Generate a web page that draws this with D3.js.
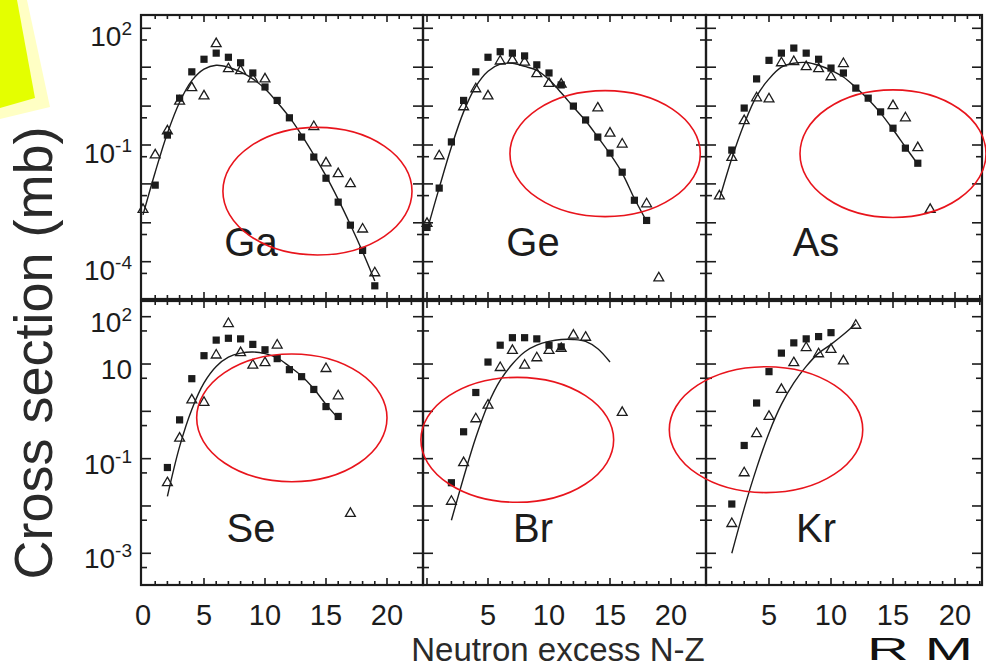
<!DOCTYPE html>
<html><head><meta charset="utf-8">
<script src="https://cdn.jsdelivr.net/npm/d3@7"></script>
<style>body{margin:0;background:#fff}svg{display:block}</style>
</head><body>
<svg id="c" width="986" height="669"></svg>
<script>
// ---------- data: [N-Z, cross section (mb)] ----------
const elements = ["Ga","Ge","As","Se","Br","Kr"];
const xTickLabels = [0,5,10,15,20];
const yTickLabelsTop = [1e2,1e-1,1e-4];
const yTickLabelsBottom = [1e2,1e1,1e-1,1e-3];
const yTitle = "Cross section (mb)";
const xTitle = "Neutron excess N-Z";

const gaSquares = [[1,0.0093],[2,0.18],[3,1.6],[4,7.6],[5,16],[6,23],[7,18],[8,13],[9,7.1],[10,3.1],[11,1.4],[12,0.5],[13,0.16],[14,0.049],[15,0.014],[16,0.0034],[17,0.00087],[18,0.000195],[19,0.000024]];
const gaTriangles = [[0,0.0023],[1,0.058],[2,0.24],[3,1.4],[4,3.1],[5,1.9],[6,42],[7,9.5],[8,8.5],[9,5.2],[10,5.2],[14,0.31],[15,0.036],[16,0.019],[17,0.0105],[18,0.00072],[19,0.000054]];
const gaFit = [[0,0.0016],[1,0.02],[2,0.2],[3,1.26],[4,4.5],[5,8.9],[6,11.2],[7,10],[8,7.6],[9,5.0],[10,2.8],[11,1.26],[12,0.52],[13,0.18],[14,0.056],[15,0.016],[16,0.004],[17,0.00089],[18,0.00018],[19,0.000032]];

const geSquares = [[0,0.00076],[1,0.0078],[2,0.12],[3,1.4],[4,7.6],[5,18],[6,25],[7,23],[8,19.5],[9,11.5],[10,7.1],[11,3.5],[12,1.0],[13,0.44],[14,0.16],[15,0.062],[16,0.02],[17,0.0038],[18,0.00115]];
const geTriangles = [[0,0.001],[1,0.055],[3,1.0],[4,2.9],[5,1.9],[6,15],[7,16],[8,14],[9,7.1],[10,4.0],[11,3.8],[14,0.93],[15,0.21],[16,0.11],[18,0.0032],[19,0.00004]];
const geFit = [[0,0.00063],[1,0.0079],[2,0.089],[3,0.71],[4,3.2],[5,7.9],[6,12],[7,12.6],[8,10.5],[9,8.3],[10,4.8],[11,2.2],[12,0.95],[13,0.42],[14,0.16],[15,0.059],[16,0.019],[17,0.0042],[18,0.0011]];

const asSquares = [[2,0.074],[3,0.89],[4,5.0],[5,15],[6,23],[7,31],[8,23],[9,16],[10,9.5],[11,7.1],[12,2.9],[13,1.6],[14,0.71],[15,0.27],[16,0.083],[17,0.034]];
const asTriangles = [[1,0.0051],[2,0.05],[3,0.44],[4,1.7],[5,1.6],[6,13.5],[7,14.5],[8,10.7],[9,9.5],[10,5.9],[11,12.9],[15,1.07],[16,0.52],[17,0.089],[18,0.0023]];
const asFit = [[1,0.004],[2,0.045],[3,0.35],[4,1.8],[5,5.0],[6,10],[7,12.6],[8,13.2],[9,11.2],[10,8.3],[11,5.6],[12,3.0],[13,1.5],[14,0.66],[15,0.25],[16,0.089],[17,0.032]];

const seSquares = [[2,0.065],[3,0.66],[4,4.9],[5,15],[6,32],[7,35],[8,34],[9,26],[10,20],[11,13],[12,7.6],[13,5.4],[14,2.9],[15,1.26],[16,0.78]];
const seTriangles = [[2,0.032],[3,0.28],[4,1.8],[5,1.6],[6,16],[7,74],[8,18],[9,9.8],[10,11],[11,26],[15,8.3],[16,2.2],[17,0.0072]];
const seFit = [[2,0.016],[3,0.18],[4,1.1],[5,4.0],[6,8.9],[7,14],[8,17],[9,18],[10,16.6],[11,13.5],[12,8.9],[13,5.6],[14,3.0],[15,1.4],[16,0.71]];

const brSquares = [[2,0.031],[3,0.37],[4,2.5],[5,11],[6,25],[7,36],[8,36],[9,34],[10,25],[11,23]];
const brTriangles = [[2,0.013],[3,0.085],[4,0.72],[5,1.4],[6,8.7],[7,20],[8,9.8],[9,14],[10,20],[11,22],[12,42],[13,38],[16,0.98]];
const brFit = [[2,0.005],[3,0.04],[4,0.28],[5,1.4],[6,4.5],[7,10],[8,18],[9,25],[10,30],[11,33],[12,33],[13,30],[14,21],[15,11]];

const krSquares = [[2,0.011],[3,0.19],[4,1.5],[5,6.9],[6,17],[7,28],[8,34],[9,38],[10,46]];
const krTriangles = [[2,0.0044],[3,0.052],[4,0.35],[5,0.81],[6,3.0],[7,11],[8,23],[9,17],[10,21],[11,12],[12,68]];
const krFit = [[2,0.001],[3,0.0089],[4,0.063],[5,0.35],[6,1.4],[7,4.0],[8,8.9],[9,17],[10,26],[11,42],[12,71]];

// highlight rings: [centre N-Z, centre cross section, half-width in N-Z, half-height in decades]
const ringGa = [14.3,0.0065,7.75,1.64];
const ringGe = [14.6,0.06,7.8,1.62];
const ringAs = [15.0,0.06,7.5,1.64];
const ringSe = [12.2,0.73,7.8,1.35];
const ringBr = [7.4,0.25,7.9,1.32];
const ringKr = [4.76,0.41,7.8,1.33];

const panels = [
  {el:"Ga", sq:gaSquares, tri:gaTriangles, fit:gaFit, ring:ringGa},
  {el:"Ge", sq:geSquares, tri:geTriangles, fit:geFit, ring:ringGe},
  {el:"As", sq:asSquares, tri:asTriangles, fit:asFit, ring:ringAs},
  {el:"Se", sq:seSquares, tri:seTriangles, fit:seFit, ring:ringSe},
  {el:"Br", sq:brSquares, tri:brTriangles, fit:brFit, ring:ringBr},
  {el:"Kr", sq:krSquares, tri:krTriangles, fit:krFit, ring:ringKr}
];

// ---------- layout ----------
const INK = "#1c1c1c";
const FONT = "'Liberation Sans', Arial, Helvetica, sans-serif";
const svg = d3.select("#c");

// decorative yellow note (top-left)
svg.append("path").attr("d","M0,0 L27,0 L50,107 L0,119 Z").attr("fill","#ffffc4");
svg.append("path").attr("d","M0,0 L17,0 L35,98 L0,108 Z").attr("fill","#e4ff00");

const cols = [
  {x0:141, x1:423, a:143, b:387},
  {x0:423, x1:706, a:427, b:671},
  {x0:706, x1:982, a:707, b:955}
];
const rows = [
  {y0:15, y1:299, y:d3.scaleLog().domain([1e-4,1e2]).range([261.7,28.3]), labels:yTickLabelsTop, ldy:18},
  {y0:301, y1:585, y:d3.scaleLog().domain([1e-3,1e2]).range([553.3,316.7]), labels:yTickLabelsBottom, ldy:15}
];

const ringLayer = [];

panels.forEach((p,i) => {
  const c = cols[i%3], r = rows[Math.floor(i/3)];
  const x = d3.scaleLinear().domain([0,20]).range([c.a, c.b]);
  const y = r.y;
  const g = svg.append("g");

  // y ticks: major at decades, minor at half-decade value (0.5 x 10^n)
  const yt = [];
  for (let e=-7; e<=4; e++) {
    yt.push({v:Math.pow(10,e), len:10});
    yt.push({v:0.5*Math.pow(10,e), len:6});
  }
  yt.filter(t => y(t.v) > r.y0+2 && y(t.v) < r.y1-2).forEach(t => {
    const yy = y(t.v);
    g.append("line").attr("x1",c.x0).attr("x2",c.x0+t.len).attr("y1",yy).attr("y2",yy)
      .attr("stroke",INK).attr("stroke-width",1.6);
    g.append("line").attr("x1",c.x1).attr("x2",c.x1-t.len).attr("y1",yy).attr("y2",yy)
      .attr("stroke",INK).attr("stroke-width",1.6);
  });

  // x ticks (bottom and top, inward)
  d3.range(0,26).forEach(n => {
    const xx = x(n);
    if (xx <= c.x0+2 || xx >= c.x1-2) return;
    const len = n%5===0 ? 7 : 4;
    g.append("line").attr("x1",xx).attr("x2",xx).attr("y1",r.y1).attr("y2",r.y1-len)
      .attr("stroke",INK).attr("stroke-width",1.6);
    g.append("line").attr("x1",xx).attr("x2",xx).attr("y1",r.y0).attr("y2",r.y0+len)
      .attr("stroke",INK).attr("stroke-width",1.6);
  });

  // frame
  g.append("rect").attr("x",c.x0).attr("y",r.y0).attr("width",c.x1-c.x0).attr("height",r.y1-r.y0)
    .attr("fill","none").attr("stroke",INK).attr("stroke-width",2.2);

  // fit curve
  g.append("path").datum(p.fit)
    .attr("d", d3.line().x(d=>x(d[0])).y(d=>y(d[1])).curve(d3.curveCatmullRom.alpha(0.5)))
    .attr("fill","none").attr("stroke",INK).attr("stroke-width",1.4);

  // squares (filled)
  g.selectAll(null).data(p.sq).enter().append("rect")
    .attr("x",d=>x(d[0])-3.6).attr("y",d=>y(d[1])-3.6).attr("width",7.2).attr("height",7.2)
    .attr("fill",INK);

  // triangles (open)
  const tri = d3.symbol().type(d3.symbolTriangle).size(42);
  g.selectAll(null).data(p.tri).enter().append("path")
    .attr("d",tri).attr("transform",d=>`translate(${x(d[0])},${y(d[1])+0.8})`)
    .attr("fill","none").attr("stroke",INK).attr("stroke-width",1.3);

  // element label
  g.append("text").attr("x",c.x0+110).attr("y",r.y0+241).attr("text-anchor","middle")
    .attr("font-family",FONT).attr("font-size",40).attr("fill",INK).text(p.el);

  // x tick labels on bottom row
  if (i>=3) {
    xTickLabels.filter(v => i===3 || v>0).forEach(v => {
      svg.append("text").attr("x",x(v)).attr("y",625).attr("text-anchor","middle")
        .attr("font-family",FONT).attr("font-size",29).attr("fill",INK).text(v);
    });
  }
  // y tick labels on first column
  if (i%3===0) {
    r.labels.forEach(v => {
      const e = Math.round(Math.log10(v));
      const t = svg.append("text").attr("x",132).attr("y",y(v)+r.ldy).attr("text-anchor","end")
        .attr("font-family",FONT).attr("font-size",28).attr("fill",INK);
      t.append("tspan").text("10");
      if (e!==1) t.append("tspan").attr("dy",-11).attr("font-size",19).text(e<0 ? "-"+(-e) : e);
    });
  }

  ringLayer.push({x, y, ring:p.ring});
});

// red highlight ellipses on top
ringLayer.forEach(o => {
  const [n,v,hn,hd] = o.ring;
  const pxPerN = o.x(1)-o.x(0);
  const pxPerDec = o.y(1)-o.y(10);
  svg.append("ellipse").attr("cx",o.x(n)).attr("cy",o.y(v))
    .attr("rx",hn*pxPerN).attr("ry",hd*pxPerDec)
    .attr("fill","none").attr("stroke","#e8141c").attr("stroke-width",1.6);
});

// axis titles
svg.append("text").attr("transform","translate(52,353) rotate(-90)").attr("text-anchor","middle")
  .attr("font-family",FONT).attr("font-size",54).attr("fill","#2a2a2a").text(yTitle);
svg.append("text").attr("x",558).attr("y",661).attr("text-anchor","middle")
  .attr("font-family",FONT).attr("font-size",33).attr("fill","#2a2a2a").text(xTitle);

// slide text at bottom-right (shrunk to stay inside the picture)
svg.append("text").attr("x",867).attr("y",660).attr("font-family",FONT).attr("font-size",32)
  .attr("textLength",106).attr("lengthAdjust","spacingAndGlyphs")
  .attr("fill","#111").text("R M");
</script>
</body></html>
